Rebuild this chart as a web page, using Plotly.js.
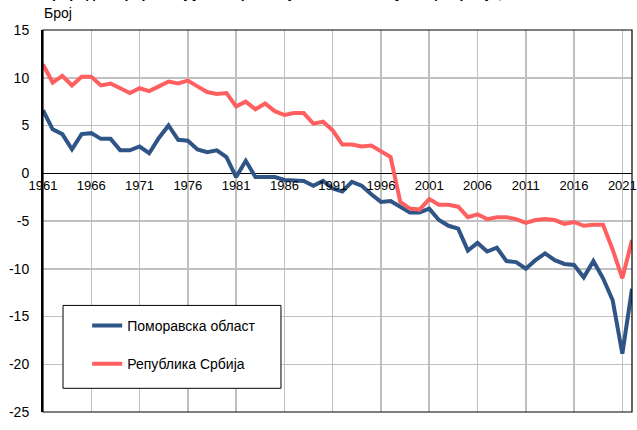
<!DOCTYPE html>
<html>
<head>
<meta charset="utf-8">
<script src="https://cdn.plot.ly/plotly-3.0.1.min.js"></script>
<style>html,body{margin:0;padding:0;background:#fff;}#chart{width:637px;height:430px;}</style>
</head>
<body>
<div id="chart"></div>
<script>
const years = [];
for (let y = 1961; y <= 2022; y++) years.push(y);

const pomoravska = [6.6, 4.6, 4.1, 2.5, 4.1, 4.2, 3.6, 3.6, 2.4, 2.4,
  2.8, 2.1, 3.7, 5.0, 3.5, 3.4, 2.5, 2.2, 2.4, 1.7,
  -0.4, 1.3, -0.4, -0.4, -0.4, -0.7, -0.7, -0.8, -1.3, -0.8,
  -1.6, -1.9, -0.9, -1.3, -2.2, -3.0, -2.9, -3.5, -4.1, -4.1,
  -3.7, -4.9, -5.5, -5.8, -8.1, -7.3, -8.2, -7.8, -9.2, -9.3,
  -10.0, -9.1, -8.4, -9.1, -9.5, -9.6, -10.9, -9.2, -11.0, -13.3,
  -18.9, -12.1];

const srbija = [11.4, 9.5, 10.2, 9.2, 10.1, 10.1, 9.2, 9.4, 8.9, 8.4,
  8.9, 8.6, 9.1, 9.6, 9.4, 9.7, 9.1, 8.5, 8.3, 8.4,
  7.0, 7.5, 6.7, 7.3, 6.5, 6.1, 6.3, 6.3, 5.2, 5.4,
  4.5, 3.0, 3.0, 2.8, 2.9, 2.3, 1.7, -3.0, -3.7, -3.8,
  -2.7, -3.3, -3.3, -3.5, -4.6, -4.3, -4.8, -4.6, -4.6, -4.8,
  -5.2, -4.9, -4.8, -4.9, -5.3, -5.1, -5.5, -5.4, -5.4, -8.0,
  -11.0, -7.0];

const seriesNames = ["Поморавска област", "Република Србија"];
const yTicks = [-25, -20, -15, -10, -5, 0, 5, 10, 15];
const yTickText = yTicks.map(v => String(v));
const titleText = "Природни прираштај у Поморавској области и Републици Србији, на 1000 становника";
const yTitleText = "Број";

const FONT = "Liberation Sans, Arial, sans-serif";

const traces = [
  {x: years, y: pomoravska, name: seriesNames[0], type: "scatter", mode: "lines",
   line: {color: "#2f5486", width: 4}, legendgroup: "a"},
  {x: years, y: srbija, name: seriesNames[1], type: "scatter", mode: "lines",
   line: {color: "#ff5f5f", width: 4}, legendgroup: "b"}
];

const layout = {
  width: 637, height: 430,
  margin: {l: 43, r: 5, t: 30, b: 18, pad: 0},
  paper_bgcolor: "#fff", plot_bgcolor: "#fff",
  font: {family: FONT, size: 13, color: "#000"},
  showlegend: true,
  legend: {x: 0.075, y: 0.267, xanchor: "left", yanchor: "top",
    bgcolor: "rgba(0,0,0,0)", borderwidth: 0,
    traceorder: "grouped", tracegroupgap: 17,
    font: {family: FONT, size: 14, color: "#000"}},
  xaxis: {range: [1961, 2022], tick0: 1961, dtick: 5, tickformat: "d",
    anchor: "free", position: 0.625,
    showgrid: true, gridcolor: "#c0c0c0", gridwidth: 1.5,
    showline: false, zeroline: false, ticks: "", ticklabelstandoff: 3,
    tickfont: {family: FONT, size: 13, color: "#000"}},
  yaxis: {range: [-25, 15], tickvals: yTicks, ticktext: yTickText,
    showgrid: true, gridcolor: "#c0c0c0", gridwidth: 1.5,
    zeroline: true, zerolinecolor: "#000", zerolinewidth: 1.5,
    showline: true, linecolor: "#000", linewidth: 2,
    ticks: "", ticklabelstandoff: 9,
    tickfont: {family: FONT, size: 14, color: "#000"}},
  shapes: [
    {type: "rect", xref: "paper", yref: "paper", x0: 0, x1: 1, y0: 0, y1: 1,
     line: {color: "#000", width: 1.2}, fillcolor: "rgba(0,0,0,0)", layer: "above"},
    {type: "rect", xref: "paper", yref: "paper", x0: 0.034, x1: 0.404, y0: 0.062, y1: 0.279,
     line: {color: "#000", width: 1}, fillcolor: "#fff", layer: "above"}
  ],
  annotations: [
    {text: yTitleText, xref: "paper", yref: "paper", x: -0.002, y: 1.045,
     xanchor: "left", yanchor: "middle", showarrow: false,
     font: {family: FONT, size: 14, color: "#000"}},
    {text: "<b>" + titleText + "</b>", xref: "paper", yref: "paper", x: -0.005, y: 1.097,
     xanchor: "left", yanchor: "middle", showarrow: false,
     font: {family: FONT, size: 14, color: "#000"}}
  ]
};

Plotly.newPlot("chart", traces, layout, {displayModeBar: false, staticPlot: true});
</script>
</body>
</html>
